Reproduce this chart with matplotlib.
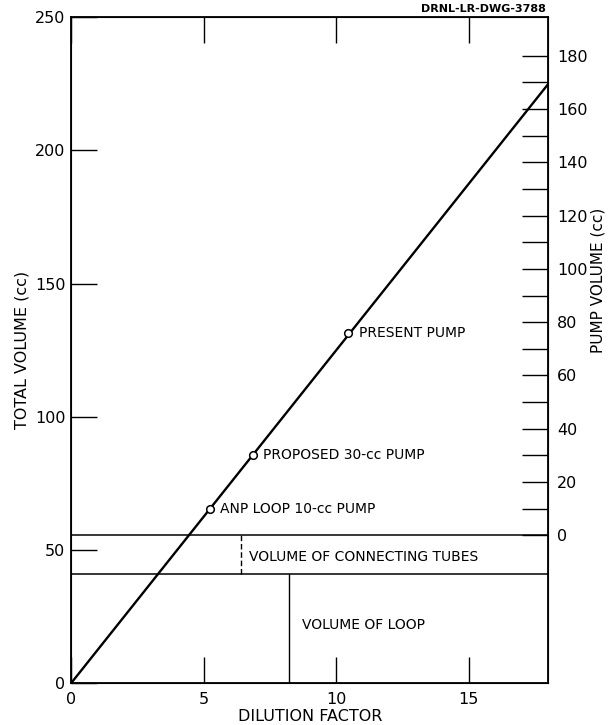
import numpy as np
import matplotlib
matplotlib.use('Agg')
import matplotlib.pyplot as plt

# dilution line (total volume vs dilution factor)
line_x = [0, 18]
line_y = [0, 225]

# pump points on the line
pump_x = [5.25, 6.87, 10.46]
pump_y = [65.5, 85.5, 131.5]
pump_labels = ['ANP LOOP 10-cc PUMP', 'PROPOSED 30-cc PUMP', 'PRESENT PUMP']

loop_vol = 41.0       # volume of loop
tube_top = 55.5       # loop + connecting tubes (pump volume zero)

left_ticks = [0, 50, 100, 150, 200, 250]
right_ticks = [0, 20, 40, 60, 80, 100, 120, 140, 160, 180]
right_minor = [10, 30, 50, 70, 90, 110, 130, 150, 170]
x_ticks = [0, 5, 10, 15]

plt.rcParams['font.family'] = ['DejaVu Sans']

fig = plt.figure(figsize=(6.09, 7.25), dpi=100)
ax = fig.add_axes([0.1166, 0.0575, 0.7840, 0.919])

ax.plot(line_x, line_y, color='black', lw=1.7)
ax.plot(pump_x, pump_y, 'o', ms=5.5, mfc='white', mec='black', mew=1.1)
for px, py, lab in zip(pump_x, pump_y, pump_labels):
    ax.text(px + 0.38, py, lab, fontsize=10, va='center', ha='left')

ax.axhline(tube_top, color='black', lw=1.1)
ax.axhline(loop_vol, color='black', lw=1.1)
ax.plot([6.42, 6.42], [loop_vol, tube_top], color='black', lw=1.0, ls=(0, (4, 2)))
ax.plot([8.2, 8.2], [0, loop_vol], color='black', lw=1.0)
ax.text(6.72, 47.5, 'VOLUME OF CONNECTING TUBES', fontsize=10, va='center', ha='left')
ax.text(8.7, 22, 'VOLUME OF LOOP', fontsize=10, va='center', ha='left')

ax.set_xlim(0, 18)
ax.set_ylim(0, 250)
ax.set_xticks(x_ticks)
ax.set_yticks(left_ticks)
ax.tick_params(axis='both', direction='in', length=19, width=1.0, labelsize=11.5,
               top=True, pad=4)
ax.tick_params(axis='x', pad=6)
for sp in ax.spines.values():
    sp.set_linewidth(1.3)

ax.set_xlabel('DILUTION FACTOR', fontsize=11.5, labelpad=2)
ax.set_ylabel('TOTAL VOLUME (cc)', fontsize=11.5, labelpad=4)

# right axis: pump volume measured above the tube line
ax2 = ax.twinx()
ax2.set_ylim(0 - tube_top, 250 - tube_top)
ax2.set_yticks(right_ticks)
ax2.set_yticks(right_minor, minor=True)
ax2.tick_params(axis='y', which='both', direction='in', length=19, width=1.0,
                labelsize=11.5, pad=6)
ax2.set_ylabel('PUMP VOLUME (cc)', fontsize=11, va='center')
ax2.yaxis.set_label_coords(1.103, 0.605)

fig.text(0.897, 0.9945, 'DRNL-LR-DWG-3788', fontsize=8, ha='right', va='top',
         fontweight='bold')

fig.savefig('out.png', dpi=100)
